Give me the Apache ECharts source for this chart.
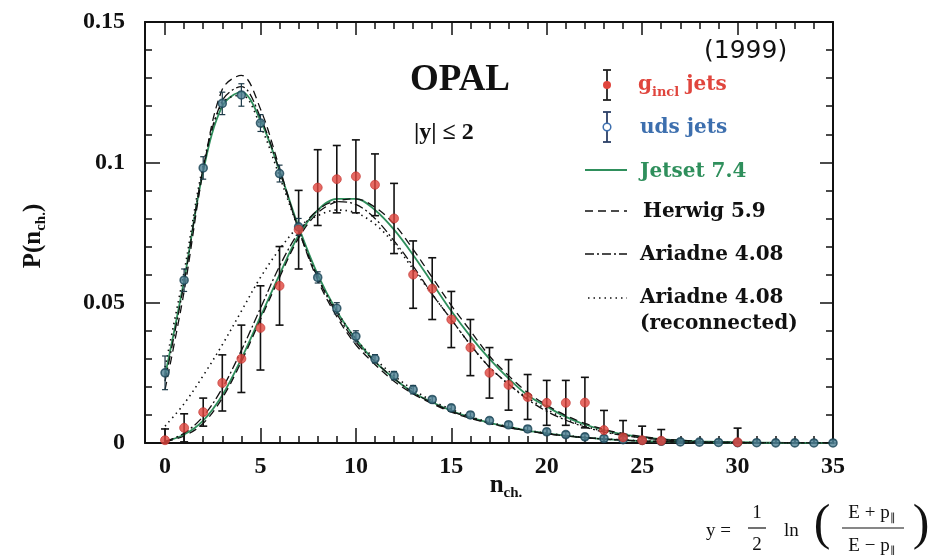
<!DOCTYPE html>
<html><head><meta charset="utf-8">
<script src="https://cdn.jsdelivr.net/npm/echarts@6/dist/echarts.min.js"></script>
<style>html,body{margin:0;padding:0;background:#fff}#c{width:931px;height:555px}</style>
</head><body><div id="c"></div>
<script>
const nValues = Array.from({length:36},(_,i)=>i);
const xTickValues = [0,5,10,15,20,25,30,35];
const xMinorValues = nValues;
const yTickLabels = ['0','0.05','0.1','0.15'];

const gData = [0.001,0.0054,0.011,0.0214,0.030,0.041,0.056,0.076,0.091,0.094,0.095,0.092,0.080,0.060,0.055,0.044,0.034,0.025,0.0207,0.0164,0.0143,0.0143,0.0144,0.0046,0.002,0.001,0.0008,null,null,null,0.0003,null,null,null,null,null];
const gErr  = [0.004,0.005,0.005,0.010,0.012,0.015,0.014,0.014,0.0135,0.012,0.013,0.011,0.0125,0.012,0.011,0.010,0.010,0.009,0.009,0.008,0.008,0.008,0.009,0.007,0.006,0.005,0.004,null,null,null,0.005,null,null,null,null,null];
const udsData = [0.025,0.058,0.098,0.121,0.124,0.114,0.096,0.077,0.059,0.048,0.038,0.030,0.024,0.019,0.0155,0.0125,0.010,0.008,0.0065,0.005,0.004,0.003,0.0022,0.0016,0.0012,0.0009,0.0006,0.0004,0.0003,0.0002,0.0001,0.0001,0.00005,0.00003,0.00002,0.00001];
const udsErr = [0.006,0.004,0.004,0.004,0.004,0.003,0.003,0.003,0.002,0.002,0.002,0.0015,0.0015,0.0015,0.001,0.001,0.001,0.001,0.001,0.001,0.001,0.001,0.001,0.001,0.001,0.001,0.001,0.001,0.001,0.001,0.001,0.001,0.001,0.001,0.001,0.001];

const jetsetG = [0.0005,0.003,0.008,0.017,0.030,0.045,0.060,0.074,0.083,0.087,0.087,0.083,0.076,0.067,0.057,0.047,0.038,0.030,0.023,0.017,0.013,0.0093,0.0066,0.0046,0.0031,0.0021,0.0014,0.0009,0.0006,0.0004,0.00025,0.00015,0.0001,0.00006,0.00003,0.00002];
const herwigG = [0.0004,0.0025,0.007,0.016,0.029,0.044,0.059,0.073,0.082,0.086,0.087,0.084,0.078,0.069,0.059,0.049,0.040,0.031,0.024,0.018,0.0135,0.0098,0.007,0.0049,0.0034,0.0023,0.0015,0.001,0.0006,0.0004,0.00025,0.00015,0.0001,0.00006,0.00003,0.00002];
const ariadneG = [0.0006,0.0035,0.0095,0.0195,0.033,0.048,0.063,0.075,0.083,0.086,0.085,0.080,0.072,0.063,0.053,0.044,0.035,0.027,0.021,0.0155,0.0113,0.0081,0.0057,0.0039,0.0027,0.0018,0.0012,0.0008,0.0005,0.0003,0.0002,0.0001,0.00006,0.00004,0.00002,0.00001];
const ariadneRecG = [0.006,0.014,0.024,0.035,0.047,0.059,0.069,0.077,0.081,0.083,0.082,0.078,0.071,0.062,0.053,0.044,0.035,0.027,0.021,0.016,0.012,0.0085,0.006,0.0042,0.0029,0.0019,0.0013,0.0008,0.0005,0.0003,0.0002,0.0001,0.00006,0.00004,0.00002,0.00001];

const jetsetUds = [0.024,0.058,0.097,0.120,0.125,0.115,0.097,0.077,0.060,0.047,0.037,0.029,0.023,0.018,0.0145,0.0115,0.0091,0.0072,0.0057,0.0044,0.0034,0.0026,0.0019,0.0014,0.001,0.0007,0.0005,0.00035,0.00024,0.00016,0.0001,0.00007,0.00004,0.00003,0.00002,0.00001];
const herwigUds = [0.019,0.054,0.097,0.126,0.131,0.119,0.098,0.076,0.058,0.045,0.035,0.028,0.022,0.0175,0.014,0.011,0.0088,0.007,0.0055,0.0043,0.0033,0.0025,0.0019,0.0014,0.001,0.0007,0.0005,0.00035,0.00024,0.00016,0.0001,0.00007,0.00004,0.00003,0.00002,0.00001];
const ariadneUds = [0.022,0.057,0.098,0.122,0.127,0.116,0.097,0.076,0.059,0.046,0.036,0.029,0.023,0.018,0.0143,0.0113,0.009,0.0071,0.0056,0.0043,0.0033,0.0025,0.0019,0.0014,0.001,0.0007,0.0005,0.00035,0.00024,0.00016,0.0001,0.00007,0.00004,0.00003,0.00002,0.00001];
const ariadneRecUds = [0.027,0.061,0.099,0.121,0.124,0.113,0.095,0.076,0.059,0.047,0.037,0.030,0.024,0.019,0.015,0.012,0.0094,0.0074,0.0058,0.0045,0.0035,0.0027,0.002,0.0015,0.0011,0.0008,0.0006,0.0004,0.00028,0.00018,0.00012,0.00008,0.00005,0.00003,0.00002,0.00001];

const RED = '#e0453d', GREEN = '#2f8f5c', BLUE = '#3d6fae', UDSEDGE = '#1a4556';
const pairs = arr => nValues.map((n,i)=>[n,arr[i]]).filter(p=>p[1]!==null);
const triples = (v,e) => nValues.map((n,i)=>[n,v[i],e[i]]).filter(p=>p[1]!==null);

function errRender(color, hw, lw){
  return function(params, api){
    const x = api.value(0), y = api.value(1), e = api.value(2);
    const t = api.coord([x, y+e]), b = api.coord([x, Math.max(y-e,0)]);
    const st = {stroke: color, lineWidth: lw};
    return {type:'group', children:[
      {type:'line', shape:{x1:t[0],y1:t[1],x2:b[0],y2:b[1]}, style:st},
      {type:'line', shape:{x1:t[0]-hw,y1:t[1],x2:t[0]+hw,y2:t[1]}, style:st},
      {type:'line', shape:{x1:b[0]-hw,y1:b[1],x2:b[0]+hw,y2:b[1]}, style:st}
    ]};
  };
}

const DASH = [8,5], DASHDOT = [9,3,2,3], DOT = [1.5,4];
function lineSeries(name, arr, color, type, width){
  return {name, type:'line', data: pairs(arr), showSymbol:false, smooth:0.35, z:3,
    lineStyle:{color, type, width}, silent:true, animation:false};
}

const serifB = "'Liberation Serif'";
const axisLabelFont = {fontFamily: serifB, fontWeight:'bold', fontSize:24, color:'#111'};
const axLine = {show:true, onZero:false, lineStyle:{color:'#111', width:2}};
const noLine = {show:false, onZero:false};
const tickStyle = {color:'#111', width:1.5};

const chart = echarts.init(document.getElementById('c'), null, {renderer:'canvas'});

const legendX = 640;
const tSerif = "bold 20px 'DejaVu Serif'";
const fF = "19px 'Liberation Serif'";
const option = {
  animation:false,
  backgroundColor:'#fff',
  grid:{left:145, right:98, top:22, bottom:112},
  xAxis:[
    {type:'value', min:-1.05, max:35, position:'bottom', axisLine:axLine,
     axisTick:{show:true, inside:true, length:15, lineStyle:tickStyle, customValues:xTickValues},
     axisLabel:{...axisLabelFont, margin:12, customValues:xTickValues}, splitLine:{show:false}},
    {type:'value', min:-1.05, max:35, position:'bottom', axisLine:noLine,
     axisTick:{show:true, inside:true, length:7, lineStyle:tickStyle, customValues:xMinorValues},
     axisLabel:{show:false}, splitLine:{show:false}},
    {type:'value', min:-1.05, max:35, position:'top', axisLine:axLine,
     axisTick:{show:true, inside:true, length:13, lineStyle:tickStyle, customValues:xTickValues},
     axisLabel:{show:false}, splitLine:{show:false}},
    {type:'value', min:-1.05, max:35, position:'top', axisLine:noLine,
     axisTick:{show:true, inside:true, length:7, lineStyle:tickStyle, customValues:xMinorValues},
     axisLabel:{show:false}, splitLine:{show:false}}
  ],
  yAxis:[
    {type:'value', min:0, max:0.15, interval:0.05, position:'left', axisLine:axLine,
     axisTick:{show:true, inside:true, length:15, lineStyle:tickStyle},
     minorTick:{show:true, splitNumber:5, length:7, lineStyle:tickStyle},
     axisLabel:{...axisLabelFont, margin:20, formatter:(v)=>yTickLabels[Math.round(v/0.05)]},
     splitLine:{show:false}, minorSplitLine:{show:false}},
    {type:'value', min:0, max:0.15, interval:0.05, position:'right', axisLine:axLine,
     axisTick:{show:true, inside:true, length:13, lineStyle:tickStyle},
     minorTick:{show:true, splitNumber:5, length:7, lineStyle:tickStyle},
     axisLabel:{show:false}, splitLine:{show:false}, minorSplitLine:{show:false}}
  ],
  series:[
    {name:'g err', type:'custom', data: triples(gData,gErr), renderItem: errRender('#111',4,1.6), z:4, silent:true},
    {name:'uds err', type:'custom', data: triples(udsData,udsErr), renderItem: errRender('#1d3a48',3,1.2), z:4, silent:true},
    lineSeries('Jetset 7.4 g', jetsetG, GREEN, 'solid', 1.8),
    lineSeries('Herwig 5.9 g', herwigG, '#111', DASH, 1.3),
    lineSeries('Ariadne 4.08 g', ariadneG, '#111', DASHDOT, 1.3),
    lineSeries('Ariadne 4.08 rec g', ariadneRecG, '#111', DOT, 1.6),
    lineSeries('Jetset 7.4 uds', jetsetUds, GREEN, 'solid', 1.8),
    lineSeries('Herwig 5.9 uds', herwigUds, '#111', DASH, 1.3),
    lineSeries('Ariadne 4.08 uds', ariadneUds, '#111', DASHDOT, 1.3),
    lineSeries('Ariadne 4.08 rec uds', ariadneRecUds, '#111', DOT, 1.6),
    {name:'uds jets', type:'scatter', data: pairs(udsData), symbol:'circle', symbolSize:8, z:5,
     itemStyle:{color:'#4f8194', borderColor:UDSEDGE, borderWidth:1.6}, silent:true},
    {name:'g jets', type:'scatter', data: pairs(gData), symbol:'circle', symbolSize:9, z:6,
     itemStyle:{color:RED, borderColor:'#c0302a', borderWidth:0.8}, silent:true}
  ],
  graphic:[
    {type:'text', style:{text:'OPAL', x:410, y:80, font:"bold 37px 'Liberation Serif'", fill:'#111', textAlign:'left', textVerticalAlign:'middle'}},
    {type:'text', style:{text:'|y| ≤ 2', x:414, y:133, font:"bold 24px 'Liberation Serif'", fill:'#111', textAlign:'left', textVerticalAlign:'middle'}},
    {type:'text', style:{text:'(1999)', x:704, y:51, font:"25px 'DejaVu Sans'", fill:'#111', textAlign:'left', textVerticalAlign:'middle'}},
    {type:'line', shape:{x1:607,y1:70,x2:607,y2:100}, style:{stroke:'#222',lineWidth:1.8}},
    {type:'line', shape:{x1:603,y1:70,x2:611,y2:70}, style:{stroke:'#222',lineWidth:1.8}},
    {type:'line', shape:{x1:603,y1:100,x2:611,y2:100}, style:{stroke:'#222',lineWidth:1.8}},
    {type:'circle', shape:{cx:607,cy:85,r:4}, style:{fill:RED}},
    {type:'text', style:{text:'{a|g}{s|incl}{a| jets}', x:legendX-2, y:85, textAlign:'left', textVerticalAlign:'middle',
      rich:{a:{font:tSerif, fill:RED, lineHeight:28, verticalAlign:'middle'}, s:{font:"bold 13px 'DejaVu Serif'", fill:RED, lineHeight:14, verticalAlign:'bottom'}}}},
    {type:'line', shape:{x1:607,y1:112,x2:607,y2:142}, style:{stroke:'#2b3f66',lineWidth:1.8}},
    {type:'line', shape:{x1:603,y1:112,x2:611,y2:112}, style:{stroke:'#2b3f66',lineWidth:1.8}},
    {type:'line', shape:{x1:603,y1:142,x2:611,y2:142}, style:{stroke:'#2b3f66',lineWidth:1.8}},
    {type:'circle', shape:{cx:607,cy:127,r:3.8}, style:{fill:'#fff', stroke:BLUE, lineWidth:1.5}},
    {type:'text', style:{text:'uds jets', x:legendX, y:128, font:tSerif, fill:BLUE, textAlign:'left', textVerticalAlign:'middle'}},
    {type:'line', shape:{x1:585,y1:170,x2:627,y2:170}, style:{stroke:GREEN,lineWidth:2}},
    {type:'text', style:{text:'Jetset 7.4', x:legendX, y:172, font:tSerif, fill:GREEN, textAlign:'left', textVerticalAlign:'middle'}},
    {type:'line', shape:{x1:585,y1:211,x2:627,y2:211}, style:{stroke:'#111',lineWidth:1.3, lineDash:DASH}},
    {type:'text', style:{text:'Herwig 5.9', x:legendX+3, y:212, font:tSerif, fill:'#111', textAlign:'left', textVerticalAlign:'middle'}},
    {type:'line', shape:{x1:585,y1:254,x2:627,y2:254}, style:{stroke:'#111',lineWidth:1.3, lineDash:DASHDOT}},
    {type:'text', style:{text:'Ariadne 4.08', x:legendX, y:255, font:tSerif, fill:'#111', textAlign:'left', textVerticalAlign:'middle'}},
    {type:'line', shape:{x1:588,y1:298,x2:627,y2:298}, style:{stroke:'#111',lineWidth:1.6, lineDash:DOT}},
    {type:'text', style:{text:'Ariadne 4.08', x:legendX, y:298, font:tSerif, fill:'#111', textAlign:'left', textVerticalAlign:'middle'}},
    {type:'text', style:{text:'(reconnected)', x:legendX, y:324, font:tSerif, fill:'#111', textAlign:'left', textVerticalAlign:'middle'}},
    {type:'text', rotation:Math.PI/2, x:34, y:236, style:{text:'{a|P(n}{s|ch.}{a|)}', x:0, y:0, textAlign:'center', textVerticalAlign:'middle',
      rich:{a:{font:"bold 25px 'Liberation Serif'", fill:'#111', lineHeight:30, verticalAlign:'middle'}, s:{font:"bold 15px 'Liberation Serif'", fill:'#111', lineHeight:14, verticalAlign:'bottom'}}}},
    {type:'text', x:506, y:486, style:{text:'{a|n}{s|ch.}', x:0, y:0, textAlign:'center', textVerticalAlign:'middle',
      rich:{a:{font:"bold 25px 'Liberation Serif'", fill:'#111', lineHeight:30, verticalAlign:'middle'}, s:{font:"bold 15px 'Liberation Serif'", fill:'#111', lineHeight:14, verticalAlign:'bottom'}}}},
    {type:'text', style:{text:'y =', x:706, y:531, font:fF, fill:'#111', textAlign:'left', textVerticalAlign:'middle'}},
    {type:'text', style:{text:'1', x:757, y:513, font:fF, fill:'#111', textAlign:'center', textVerticalAlign:'middle'}},
    {type:'line', shape:{x1:748,y1:528,x2:766,y2:528}, style:{stroke:'#111',lineWidth:1.2}},
    {type:'text', style:{text:'2', x:757, y:545, font:fF, fill:'#111', textAlign:'center', textVerticalAlign:'middle'}},
    {type:'text', style:{text:'ln', x:784, y:531, font:fF, fill:'#111', textAlign:'left', textVerticalAlign:'middle'}},
    {type:'text', style:{text:'(', x:822, y:526, font:"50px 'Liberation Serif'", fill:'#111', textAlign:'center', textVerticalAlign:'middle'}},
    {type:'text', style:{text:'{a|E + p}{s|∥}', x:872, y:513, textAlign:'center', textVerticalAlign:'middle',
      rich:{a:{font:fF, fill:'#111', lineHeight:22, verticalAlign:'middle'}, s:{font:"11px 'Liberation Serif'", fill:'#111', lineHeight:12, verticalAlign:'bottom'}}}},
    {type:'line', shape:{x1:842,y1:528,x2:904,y2:528}, style:{stroke:'#111',lineWidth:1.2}},
    {type:'text', style:{text:'{a|E − p}{s|∥}', x:872, y:546, textAlign:'center', textVerticalAlign:'middle',
      rich:{a:{font:fF, fill:'#111', lineHeight:22, verticalAlign:'middle'}, s:{font:"11px 'Liberation Serif'", fill:'#111', lineHeight:12, verticalAlign:'bottom'}}}},
    {type:'text', style:{text:')', x:921, y:526, font:"50px 'Liberation Serif'", fill:'#111', textAlign:'center', textVerticalAlign:'middle'}}
  ]
};
chart.setOption(option);
</script></body></html>
